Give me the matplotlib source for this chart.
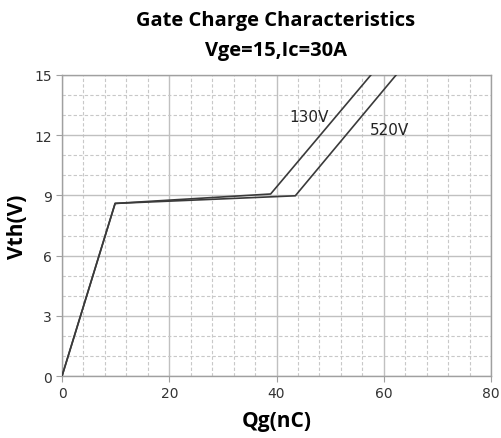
import matplotlib
matplotlib.use("Agg")
import matplotlib.pyplot as plt
from matplotlib.ticker import MultipleLocator

# Data
qg_130 = [0, 9.9, 38.9, 57.6]
vth_130 = [0, 8.6, 9.07, 15]
qg_520 = [0, 9.9, 43.5, 62.3]
vth_520 = [0, 8.6, 8.98, 15]
labels = ["130V", "520V"]
label_pos = [(46, 12.95), (61, 12.26)]
xticks = [0, 20, 40, 60, 80]
yticks = [0, 3, 6, 9, 12, 15]

fig = plt.figure(figsize=(5.01, 4.39), dpi=100)
ax = fig.add_axes([0.1238, 0.1412, 0.8563, 0.6857])

ax.plot(qg_130, vth_130, color="#3a3a3a", lw=1.2, zorder=3)
ax.plot(qg_520, vth_520, color="#3a3a3a", lw=1.2, zorder=3)
for t, (x, y) in zip(labels, label_pos):
    ax.text(x, y, t, ha="center", va="center", fontsize=11, color="#222222")

ax.set_xlim(0, 80)
ax.set_ylim(0, 15)
ax.set_xticks(xticks)
ax.set_yticks(yticks)
ax.xaxis.set_minor_locator(MultipleLocator(4))
ax.yaxis.set_minor_locator(MultipleLocator(1))
ax.grid(which="major", color="#c0c0c0", lw=1.0, ls="-", zorder=0)
ax.grid(which="minor", color="#c8c8c8", lw=0.8, ls=(0, (3, 2)), zorder=0)
ax.set_axisbelow(True)
for s in ax.spines.values():
    s.set_color("#a0a0a0")
    s.set_linewidth(1.0)
ax.tick_params(which="major", length=4, color="#a0a0a0", labelsize=10, labelcolor="#333333")
ax.tick_params(which="minor", length=0)

ax.set_xlabel("Qg(nC)", fontsize=15, fontweight="bold", family="Open Sans", labelpad=7)
ax.set_ylabel("Vth(V)", fontsize=15, fontweight="bold", family="Open Sans", labelpad=4)
fig.text(0.551, 0.952, "Gate Charge Characteristics", ha="center", va="center",
         fontsize=14.5, fontweight="bold", family="Open Sans")
fig.text(0.551, 0.884, "Vge=15,Ic=30A", ha="center", va="center",
         fontsize=14.5, fontweight="bold", family="Open Sans")

fig.savefig("out.png", dpi=100)
